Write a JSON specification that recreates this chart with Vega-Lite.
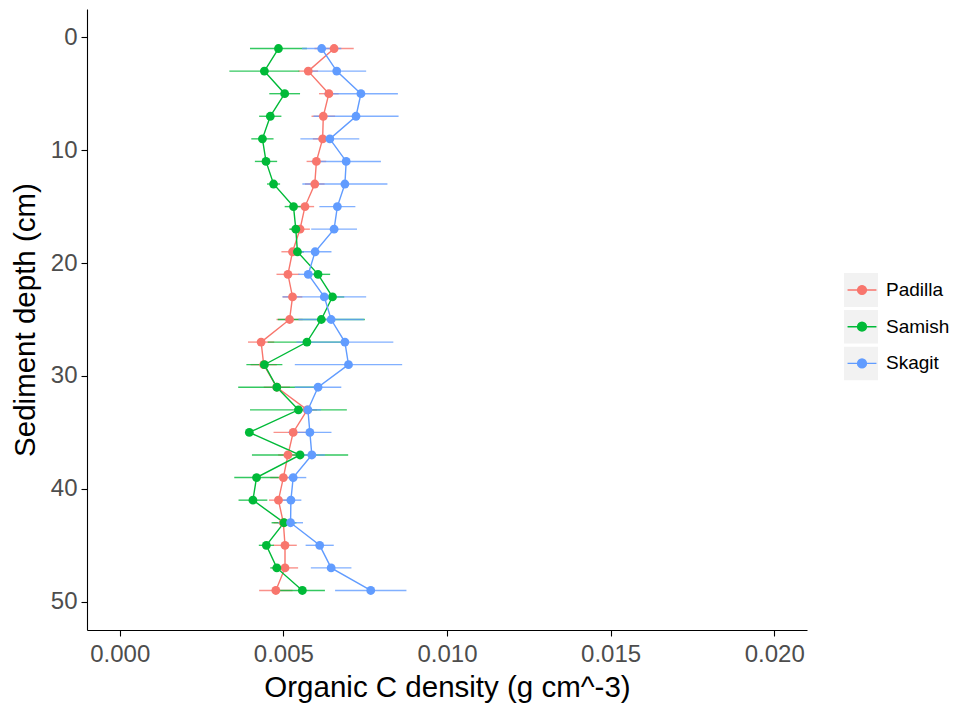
{
  "$schema": "https://vega.github.io/schema/vega-lite/v6.json",
  "width": 720,
  "height": 621,
  "autosize": {"type": "none"},
  "padding": {"left": 87, "top": 9, "right": 150, "bottom": 79},
  "background": "white",
  "config": {
    "view": {"stroke": null},
    "font": "Liberation Sans",
    "axis": {
      "domainColor": "black", "domainWidth": 1.1,
      "tickColor": "black", "tickWidth": 1.1, "tickSize": 6,
      "labelColor": "#4D4D4D", "labelFontSize": 24, "labelFont": "Liberation Sans",
      "titleColor": "black", "titleFontSize": 29.5, "titleFontWeight": "normal", "titleFont": "Liberation Sans",
      "grid": false, "labelPadding": 4
    }
  },
  "datasets": {
    "main": [
      {"site": "Padilla", "depth": 1, "c": 0.00655, "cmin": 0.00595, "cmax": 0.00715},
      {"site": "Padilla", "depth": 3, "c": 0.00576, "cmin": 0.00546, "cmax": 0.00606},
      {"site": "Padilla", "depth": 5, "c": 0.00639, "cmin": 0.00609, "cmax": 0.00669},
      {"site": "Padilla", "depth": 7, "c": 0.00622, "cmin": 0.00586, "cmax": 0.00658},
      {"site": "Padilla", "depth": 9, "c": 0.0062, "cmin": 0.0059, "cmax": 0.0065},
      {"site": "Padilla", "depth": 11, "c": 0.00601, "cmin": 0.00571, "cmax": 0.00631},
      {"site": "Padilla", "depth": 13, "c": 0.00596, "cmin": 0.00566, "cmax": 0.00626},
      {"site": "Padilla", "depth": 15, "c": 0.00566, "cmin": 0.00538, "cmax": 0.00594},
      {"site": "Padilla", "depth": 17, "c": 0.00551, "cmin": 0.00521, "cmax": 0.00581},
      {"site": "Padilla", "depth": 19, "c": 0.00528, "cmin": 0.00494, "cmax": 0.00562},
      {"site": "Padilla", "depth": 21, "c": 0.00514, "cmin": 0.00479, "cmax": 0.00549},
      {"site": "Padilla", "depth": 23, "c": 0.00528, "cmin": 0.00498, "cmax": 0.00558},
      {"site": "Padilla", "depth": 25, "c": 0.00519, "cmin": 0.00479, "cmax": 0.00559},
      {"site": "Padilla", "depth": 27, "c": 0.00432, "cmin": 0.00392, "cmax": 0.00472},
      {"site": "Padilla", "depth": 29, "c": 0.0044, "cmin": 0.004, "cmax": 0.0048},
      {"site": "Padilla", "depth": 31, "c": 0.0048, "cmin": 0.0044, "cmax": 0.0052},
      {"site": "Padilla", "depth": 33, "c": 0.00573, "cmin": 0.00543, "cmax": 0.00603},
      {"site": "Padilla", "depth": 35, "c": 0.0053, "cmin": 0.0047, "cmax": 0.0059},
      {"site": "Padilla", "depth": 37, "c": 0.00514, "cmin": 0.00484, "cmax": 0.00544},
      {"site": "Padilla", "depth": 39, "c": 0.005, "cmin": 0.0046, "cmax": 0.0054},
      {"site": "Padilla", "depth": 41, "c": 0.00485, "cmin": 0.00456, "cmax": 0.00514},
      {"site": "Padilla", "depth": 43, "c": 0.005, "cmin": 0.0047, "cmax": 0.0053},
      {"site": "Padilla", "depth": 45, "c": 0.00505, "cmin": 0.00469, "cmax": 0.00541},
      {"site": "Padilla", "depth": 47, "c": 0.00505, "cmin": 0.00465, "cmax": 0.00545},
      {"site": "Padilla", "depth": 49, "c": 0.00477, "cmin": 0.00426, "cmax": 0.00528},
      {"site": "Samish", "depth": 1, "c": 0.00485, "cmin": 0.00398, "cmax": 0.00572},
      {"site": "Samish", "depth": 3, "c": 0.00442, "cmin": 0.00335, "cmax": 0.00549},
      {"site": "Samish", "depth": 5, "c": 0.00504, "cmin": 0.00457, "cmax": 0.00551},
      {"site": "Samish", "depth": 7, "c": 0.0046, "cmin": 0.00426, "cmax": 0.00494},
      {"site": "Samish", "depth": 9, "c": 0.00436, "cmin": 0.00402, "cmax": 0.0047},
      {"site": "Samish", "depth": 11, "c": 0.00447, "cmin": 0.00413, "cmax": 0.00481},
      {"site": "Samish", "depth": 13, "c": 0.0047, "cmin": 0.0045, "cmax": 0.0049},
      {"site": "Samish", "depth": 15, "c": 0.00531, "cmin": 0.00504, "cmax": 0.00558},
      {"site": "Samish", "depth": 17, "c": 0.00538, "cmin": 0.00518, "cmax": 0.00558},
      {"site": "Samish", "depth": 19, "c": 0.00543, "cmin": 0.00523, "cmax": 0.00563},
      {"site": "Samish", "depth": 21, "c": 0.00606, "cmin": 0.00569, "cmax": 0.00643},
      {"site": "Samish", "depth": 23, "c": 0.0065, "cmin": 0.00614, "cmax": 0.00686},
      {"site": "Samish", "depth": 25, "c": 0.00616, "cmin": 0.00483, "cmax": 0.00749},
      {"site": "Samish", "depth": 27, "c": 0.00572, "cmin": 0.00452, "cmax": 0.00692},
      {"site": "Samish", "depth": 29, "c": 0.00442, "cmin": 0.00387, "cmax": 0.00497},
      {"site": "Samish", "depth": 31, "c": 0.0048, "cmin": 0.00362, "cmax": 0.00598},
      {"site": "Samish", "depth": 33, "c": 0.00546, "cmin": 0.00398, "cmax": 0.00694},
      {"site": "Samish", "depth": 35, "c": 0.00396, "cmin": 0.00386, "cmax": 0.00406},
      {"site": "Samish", "depth": 37, "c": 0.00551, "cmin": 0.00404, "cmax": 0.00698},
      {"site": "Samish", "depth": 39, "c": 0.00418, "cmin": 0.0035, "cmax": 0.00486},
      {"site": "Samish", "depth": 41, "c": 0.00407, "cmin": 0.00363, "cmax": 0.00451},
      {"site": "Samish", "depth": 43, "c": 0.00502, "cmin": 0.00464, "cmax": 0.0054},
      {"site": "Samish", "depth": 45, "c": 0.00448, "cmin": 0.00425, "cmax": 0.00471},
      {"site": "Samish", "depth": 47, "c": 0.0048, "cmin": 0.0046, "cmax": 0.005},
      {"site": "Samish", "depth": 49, "c": 0.00558, "cmin": 0.00489, "cmax": 0.00627},
      {"site": "Skagit", "depth": 1, "c": 0.00617, "cmin": 0.00557, "cmax": 0.00677},
      {"site": "Skagit", "depth": 3, "c": 0.00663, "cmin": 0.00573, "cmax": 0.00753},
      {"site": "Skagit", "depth": 5, "c": 0.00737, "cmin": 0.00624, "cmax": 0.0085},
      {"site": "Skagit", "depth": 7, "c": 0.00722, "cmin": 0.00592, "cmax": 0.00852},
      {"site": "Skagit", "depth": 9, "c": 0.00642, "cmin": 0.00552, "cmax": 0.00732},
      {"site": "Skagit", "depth": 11, "c": 0.00692, "cmin": 0.00586, "cmax": 0.00798},
      {"site": "Skagit", "depth": 13, "c": 0.00688, "cmin": 0.00558, "cmax": 0.00818},
      {"site": "Skagit", "depth": 15, "c": 0.00665, "cmin": 0.0061, "cmax": 0.0072},
      {"site": "Skagit", "depth": 17, "c": 0.00655, "cmin": 0.00585, "cmax": 0.00725},
      {"site": "Skagit", "depth": 19, "c": 0.00597, "cmin": 0.00547, "cmax": 0.00647},
      {"site": "Skagit", "depth": 21, "c": 0.00576, "cmin": 0.00546, "cmax": 0.00606},
      {"site": "Skagit", "depth": 23, "c": 0.00625, "cmin": 0.00497, "cmax": 0.00753},
      {"site": "Skagit", "depth": 25, "c": 0.00646, "cmin": 0.00546, "cmax": 0.00746},
      {"site": "Skagit", "depth": 27, "c": 0.00688, "cmin": 0.0054, "cmax": 0.00836},
      {"site": "Skagit", "depth": 29, "c": 0.00699, "cmin": 0.00535, "cmax": 0.00863},
      {"site": "Skagit", "depth": 31, "c": 0.00606, "cmin": 0.00535, "cmax": 0.00677},
      {"site": "Skagit", "depth": 33, "c": 0.00575, "cmin": 0.00535, "cmax": 0.00615},
      {"site": "Skagit", "depth": 35, "c": 0.00581, "cmin": 0.00515, "cmax": 0.00647},
      {"site": "Skagit", "depth": 37, "c": 0.00587, "cmin": 0.00547, "cmax": 0.00627},
      {"site": "Skagit", "depth": 39, "c": 0.0053, "cmin": 0.0049, "cmax": 0.0057},
      {"site": "Skagit", "depth": 41, "c": 0.00523, "cmin": 0.00491, "cmax": 0.00555},
      {"site": "Skagit", "depth": 43, "c": 0.00522, "cmin": 0.00484, "cmax": 0.0056},
      {"site": "Skagit", "depth": 45, "c": 0.00611, "cmin": 0.00568, "cmax": 0.00654},
      {"site": "Skagit", "depth": 47, "c": 0.00646, "cmin": 0.00584, "cmax": 0.00708},
      {"site": "Skagit", "depth": 49, "c": 0.00767, "cmin": 0.00658, "cmax": 0.00876}
    ],
    "keys": [{"key": "k1"}, {"key": "k2"}, {"key": "k3"}]
  },
  "layer": [
    {
      "data": {"name": "keys"},
      "mark": {"type": "point", "filled": true, "opacity": 0},
      "encoding": {
        "fill": {
          "field": "key", "type": "nominal",
          "scale": {"domain": ["k1", "k2", "k3"], "range": ["#F2F2F2", "#F2F2F2", "#F2F2F2"]},
          "legend": {
            "orient": "none", "legendX": 757, "legendY": 264, "title": null, "padding": 0,
            "symbolType": "square", "symbolSize": 1156, "symbolStrokeWidth": 0, "rowPadding": 2.7, "clipHeight": 34, "labelOffset": 6,
            "labelFontSize": 19, "labelExpr": "''", "zindex": 0,
            "encode": {"symbols": {"update": {"fill": {"value": "#F2F2F2"}, "stroke": {"value": "transparent"}, "opacity": {"value": 1}}}}
          }
        }
      }
    },
    {
      "data": {"name": "main"},
      "encoding": {
        "y": {
          "field": "depth", "type": "quantitative",
          "scale": {"domain": [-2.5, 52.5], "reverse": true, "nice": false, "zero": false},
          "axis": {"values": [0, 10, 20, 30, 40, 50], "title": "Sediment depth (cm)", "titlePadding": 10}
        },
        "color": {
          "field": "site", "type": "nominal",
          "scale": {"domain": ["Padilla", "Samish", "Skagit"], "range": ["#F8766D", "#00BA38", "#619CFF"]},
          "legend": {
            "orient": "none", "legendX": 757, "legendY": 264, "title": null, "padding": 0,
            "symbolType": "M-0.85,0L0.85,0M-0.26,0A0.26,0.26,0,1,0,0.26,0A0.26,0.26,0,1,0,-0.26,0",
            "symbolSize": 1156, "rowPadding": 2.7, "clipHeight": 34, "labelOffset": 6, "symbolStrokeWidth": 1.4,
            "labelFontSize": 19, "labelColor": "black", "zindex": 1,
            "encode": {"symbols": {"update": {"fill": {"scale": "color", "field": "value"}, "stroke": {"scale": "color", "field": "value"}, "opacity": {"value": 1}}}}
          }
        }
      },
      "layer": [
        {
          "mark": {"type": "rule", "strokeWidth": 1.4, "opacity": 0.8},
          "encoding": {
            "x": {
              "field": "cmin", "type": "quantitative",
              "scale": {"domain": [-0.001, 0.021], "nice": false, "zero": false},
              "axis": {"values": [0, 0.005, 0.01, 0.015, 0.02], "format": ".3f", "title": "Organic C density (g cm^-3)", "titlePadding": 7, "labelPadding": 6}
            },
            "x2": {"field": "cmax"}
          }
        },
        {
          "mark": {"type": "line", "strokeWidth": 1.4},
          "encoding": {
            "x": {"field": "c", "type": "quantitative", "title": "Organic C density (g cm^-3)"},
            "order": {"field": "depth", "type": "quantitative"}
          }
        },
        {
          "mark": {"type": "circle", "size": 78, "opacity": 1},
          "encoding": {
            "x": {"field": "c", "type": "quantitative", "title": "Organic C density (g cm^-3)"}
          }
        }
      ]
    }
  ]
}
